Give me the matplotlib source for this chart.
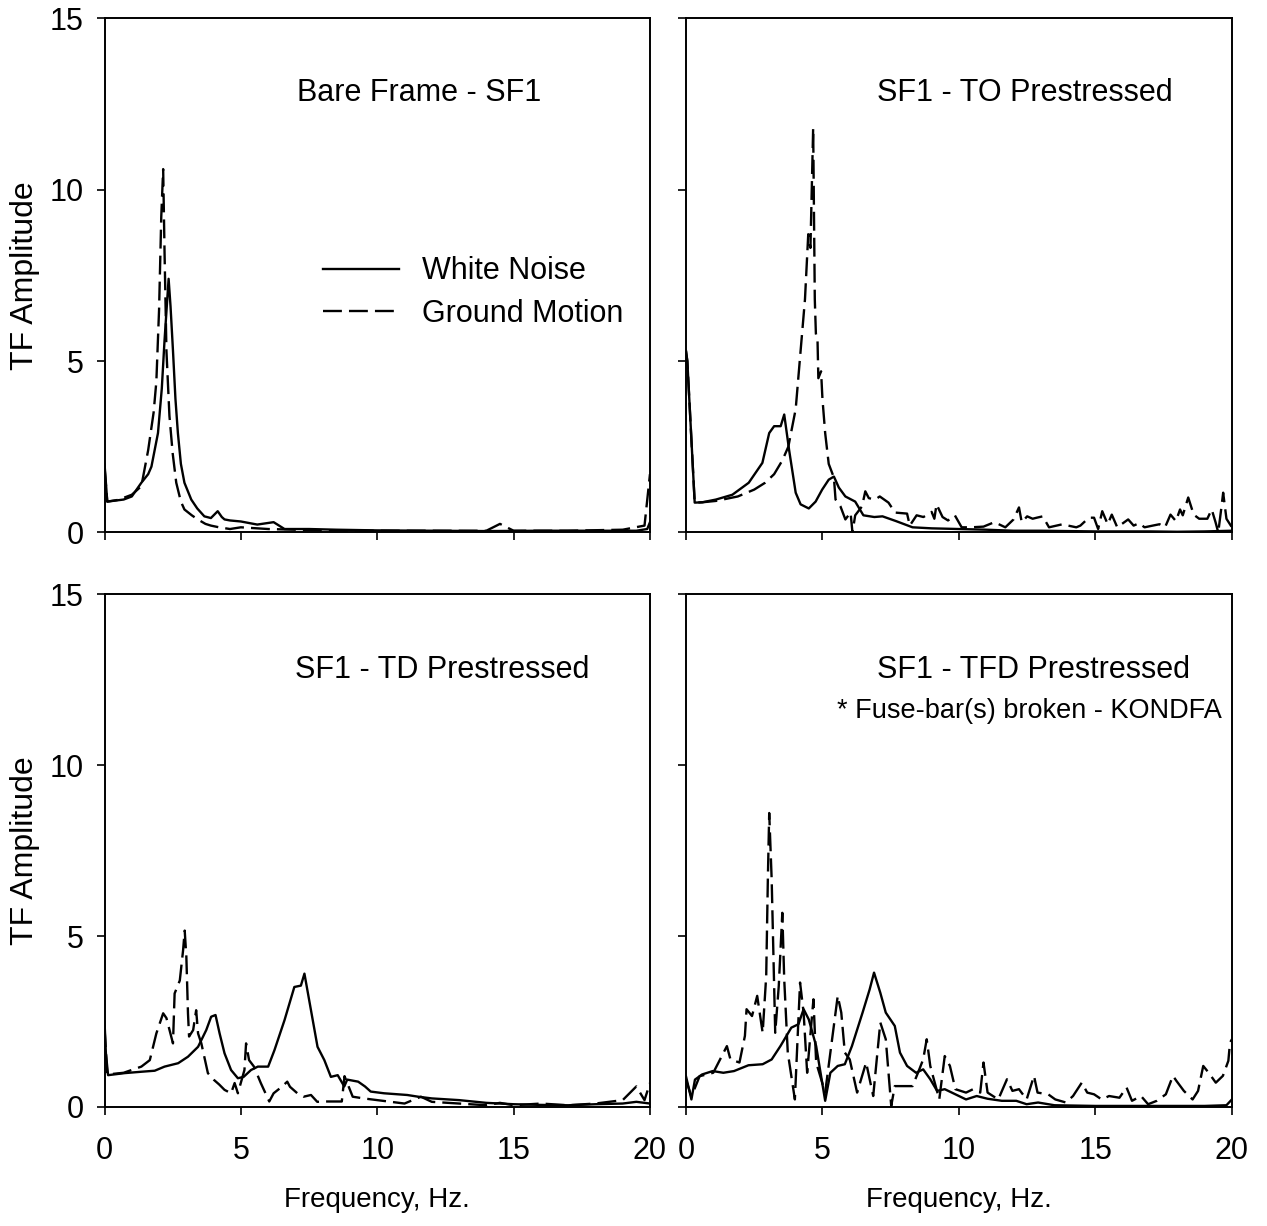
import numpy as np
import matplotlib.pyplot as plt

plt.rcParams['font.family'] = ['Liberation Sans', 'DejaVu Sans']

# ---- data (frequency in Hz, TF amplitude) ----
# Bare Frame - SF1
f_wn1 = [0, 0.1, 0.3, 0.7, 1.0, 1.35, 1.6, 1.72, 1.96, 2.1, 2.2, 2.3, 2.35, 2.42, 2.51,
         2.6, 2.69, 2.8, 2.93, 3.18, 3.4, 3.66, 3.9, 4.15, 4.3, 4.4, 4.6, 5.0, 5.6, 6.2,
         6.6, 7.5, 8.5, 10, 12, 14, 16, 18, 19.5, 19.9, 20]
a_wn1 = [2.0, 0.9, 0.92, 0.96, 1.05, 1.45, 1.7, 1.92, 2.9, 4.2, 5.6, 6.8, 7.4, 6.6, 5.3,
         3.9, 2.9, 2.0, 1.45, 0.96, 0.7, 0.47, 0.42, 0.62, 0.45, 0.38, 0.35, 0.32, 0.23, 0.3,
         0.1, 0.1, 0.08, 0.06, 0.05, 0.04, 0.05, 0.05, 0.05, 0.1, 0.3]
f_gm1 = [0, 0.1, 0.5, 1.0, 1.35, 1.6, 1.8, 1.9, 2.0, 2.08, 2.15, 2.2, 2.27, 2.38, 2.5,
         2.63, 2.8, 2.93, 3.2, 3.42, 3.7, 3.9, 4.2, 4.6, 5.0, 6.0, 7.0, 8.0, 10, 12, 14,
         14.5, 15, 17, 19, 19.8, 20]
a_gm1 = [1.9, 0.9, 0.95, 1.1, 1.35, 2.4, 3.5, 4.4, 6.5, 9.2, 10.6, 8.2, 5.3, 3.4, 2.3,
         1.45, 0.9, 0.67, 0.5, 0.38, 0.25, 0.2, 0.15, 0.1, 0.15, 0.1, 0.08, 0.06, 0.05, 0.05, 0.05,
         0.25, 0.05, 0.05, 0.08, 0.2, 1.7]

# SF1 - TO Prestressed
f_wn2 = [0, 0.05, 0.32, 0.6, 1.1, 1.7, 2.3, 2.8, 3.05, 3.23, 3.47, 3.6, 3.78, 4.02, 4.2,
         4.5, 4.75, 4.99, 5.23, 5.42, 5.6, 5.84, 6.2, 6.5, 6.9, 7.2, 7.7, 8.3, 9, 10, 11,
         12, 13, 14, 15, 16, 17, 18, 19, 20]
a_wn2 = [5.3, 5.0, 0.87, 0.88, 0.96, 1.1, 1.45, 2.03, 2.9, 3.1, 3.1, 3.44, 2.4, 1.16, 0.82,
         0.7, 0.9, 1.25, 1.54, 1.63, 1.31, 1.05, 0.9, 0.5, 0.45, 0.47, 0.33, 0.15, 0.12, 0.1, 0.08,
         0.05, 0.05, 0.04, 0.03, 0.03, 0.03, 0.02, 0.03, 0.05]
f_gm2 = [0, 0.05, 0.32, 0.6, 1.1, 1.9, 2.5, 2.9, 3.23, 3.53, 3.75, 4.02, 4.2, 4.36, 4.48,
         4.56, 4.66, 4.72, 4.76, 4.82, 4.85, 4.95, 5.0, 5.1, 5.23, 5.42, 5.48, 5.66, 5.84, 6.03,
         6.1, 6.2, 6.45, 6.57, 6.7, 6.93, 7.1, 7.42, 7.66, 8.1, 8.2, 8.45, 8.7, 9.0, 9.1,
         9.18, 9.4, 9.6, 9.85, 10.1, 10.45, 10.9, 11.3, 11.7, 12.0, 12.2, 12.3, 12.5, 12.7, 12.85,
         13.07, 13.3, 13.8, 14.0, 14.3, 14.45, 14.76, 14.95, 15.1, 15.25, 15.45, 15.6, 15.8, 16.2, 16.4,
         16.6, 16.8, 17.1, 17.35, 17.55, 17.75, 17.95, 18.1, 18.2, 18.4, 18.6, 18.8, 19.1, 19.26, 19.4,
         19.5, 19.62, 19.68, 19.8, 20]
a_gm2 = [5.3, 5.0, 0.87, 0.88, 0.92, 1.05, 1.25, 1.45, 1.7, 2.1, 2.5, 3.6, 5.3, 6.8, 8.7,
         8.3, 11.8, 6.8, 5.8, 5.6, 4.5, 4.7, 3.9, 2.9, 2.0, 1.6, 0.96, 0.76, 0.38, 0.58,
         0.0, 0.5, 0.76, 1.2, 1.0, 0.96, 1.05, 0.87, 0.58, 0.55, 0.2, 0.5, 0.45, 0.6, 0.4,
         0.82, 0.45, 0.35, 0.5, 0.15, 0.15, 0.17, 0.3, 0.15, 0.38, 0.73, 0.3, 0.47, 0.4, 0.43,
         0.47, 0.15, 0.24, 0.2, 0.15, 0.2, 0.43, 0.43, 0.1, 0.62, 0.24, 0.52, 0.15, 0.38, 0.2,
         0.27, 0.15, 0.2, 0.24, 0.15, 0.52, 0.33, 0.67, 0.5, 1.02, 0.52, 0.4, 0.4, 0.67, 0.3,
         0.0, 0.76, 1.16, 0.4, 0.15]

# SF1 - TD Prestressed
f_wn3 = [0, 0.05, 0.13, 0.74, 1.35, 1.84, 2.2, 2.7, 3.06, 3.43, 3.73, 3.91, 4.07, 4.22, 4.4,
         4.64, 4.89, 5.1, 5.37, 5.62, 6.0, 6.23, 6.6, 6.96, 7.2, 7.33, 7.57, 7.81, 8.06, 8.3,
         8.55, 8.79, 8.9, 9.3, 9.55, 9.76, 10.25, 11.1, 11.5, 12, 13, 14, 15, 16, 17,
         18, 19, 19.5, 20]
a_wn3 = [2.5, 1.57, 0.93, 0.99, 1.03, 1.06, 1.18, 1.28, 1.47, 1.76, 2.25, 2.64, 2.69, 2.15, 1.57,
         1.08, 0.84, 0.88, 1.08, 1.18, 1.18, 1.66, 2.54, 3.51, 3.55, 3.9, 2.83, 1.76, 1.37, 0.88,
         0.93, 0.6, 0.8, 0.74, 0.6, 0.45, 0.4, 0.35, 0.3, 0.25, 0.2, 0.12, 0.08, 0.06, 0.05,
         0.08, 0.1, 0.15, 0.1]
f_gm3 = [0, 0.1, 0.7, 1.35, 1.66, 1.9, 2.15, 2.27, 2.51, 2.57, 2.76, 2.88, 2.94, 3.0, 3.06,
         3.1, 3.25, 3.36, 3.43, 3.55, 3.79, 4.0, 4.2, 4.4, 4.64, 4.77, 4.89, 5.13, 5.19, 5.3,
         5.48, 5.73, 6.04, 6.2, 6.5, 6.7, 6.8, 7.07, 7.3, 7.57, 7.8, 8.06, 8.7, 8.8, 9.1,
         9.5, 10, 10.5, 11, 11.6, 12, 13, 14, 14.5, 15, 16, 17, 18, 19, 19.5, 19.8, 20]
a_gm3 = [2.3, 0.95, 1.0, 1.18, 1.37, 2.15, 2.74, 2.6, 1.86, 3.32, 3.7, 4.58, 5.16, 4.4, 2.74,
         2.06, 2.25, 2.83, 2.15, 1.86, 0.99, 0.8, 0.66, 0.5, 0.4, 0.7, 0.4, 1.08, 1.86, 1.37,
         1.18, 0.7, 0.16, 0.4, 0.59, 0.74, 0.59, 0.4, 0.3, 0.35, 0.15, 0.16, 0.16, 0.9, 0.3,
         0.25, 0.2, 0.15, 0.1, 0.3, 0.15, 0.1, 0.05, 0.12, 0.05, 0.1, 0.05, 0.1, 0.2, 0.6, 0.2, 0.7]

# SF1 - TFD Prestressed
f_wn4 = [0, 0.2, 0.33, 0.59, 0.98, 1.37, 1.76, 2.29, 2.81, 3.14, 3.46, 3.86, 4.12, 4.31, 4.5,
         4.77, 5.1, 5.29, 5.56, 5.82, 6.08, 6.47, 6.73, 6.89, 7.12, 7.32, 7.65, 7.84, 8.1, 8.43,
         8.69, 8.95, 9.2, 9.48, 9.74, 10.0, 10.26, 10.65, 11.05, 11.57, 12.1, 12.48, 12.9, 13.5, 15,
         17, 19, 19.8, 20]
a_wn4 = [0.9, 0.22, 0.8, 0.95, 1.05, 1.0, 1.05, 1.22, 1.25, 1.39, 1.78, 2.32, 2.42, 2.86, 2.56,
         1.78, 0.18, 1.0, 1.2, 1.25, 1.78, 2.76, 3.44, 3.93, 3.34, 2.76, 2.37, 1.59, 1.2, 1.0,
         1.1, 0.81, 0.47, 0.52, 0.42, 0.32, 0.22, 0.32, 0.24, 0.18, 0.18, 0.08, 0.13, 0.05, 0.03,
         0.03, 0.03, 0.05, 0.22]
f_gm4 = [0, 0.2, 0.5, 1.0, 1.5, 1.63, 1.96, 2.16, 2.22, 2.42, 2.61, 2.81, 2.94, 3.0, 3.05,
         3.14, 3.27, 3.4, 3.53, 3.6, 3.73, 3.99, 4.18, 4.31, 4.44, 4.67, 4.77, 5.1, 5.56, 5.69,
         5.82, 6.0, 6.27, 6.6, 6.86, 7.12, 7.32, 7.52, 7.65, 7.84, 8.3, 8.5, 8.69, 8.82, 8.95,
         9.08, 9.28, 9.48, 9.67, 9.87, 10.26, 10.52, 10.78, 10.9, 11.05, 11.44, 11.76, 11.96, 12.2, 12.48,
         12.75, 12.88, 13.27, 13.53, 13.92, 14.18, 14.5, 14.7, 14.95, 15.23, 15.5, 15.88, 16.14, 16.34, 16.67,
         16.93, 17.25, 17.58, 17.84, 17.97, 18.24, 18.56, 18.76, 18.95, 19.15, 19.41, 19.67, 19.87, 19.93, 20]
a_gm4 = [0.8, 0.3, 0.9, 1.0, 1.78, 1.39, 1.3, 2.08, 2.86, 2.66, 3.25, 2.17, 3.83, 6.66, 8.6,
         6.66, 2.17, 3.54, 5.68, 3.73, 1.59, 0.22, 3.64, 2.76, 1.0, 3.15, 1.3, 0.42, 3.25, 2.76,
         1.59, 1.39, 0.42, 1.3, 0.32, 2.47, 1.98, 0.03, 0.61, 0.61, 0.61, 1.0, 1.39, 1.98, 1.2,
         0.81, 0.22, 1.49, 1.2, 0.52, 0.42, 0.52, 0.42, 1.3, 0.42, 0.22, 0.81, 0.47, 0.52, 0.22,
         0.91, 0.42, 0.37, 0.22, 0.13, 0.32, 0.71, 0.42, 0.37, 0.22, 0.32, 0.27, 0.57, 0.18, 0.32,
         0.08, 0.18, 0.37, 0.91, 0.76, 0.47, 0.22, 0.47, 1.2, 1.0, 0.71, 0.91, 1.35, 1.88, 1.98]

titles = ["Bare Frame - SF1", "SF1 - TO Prestressed", "SF1 - TD Prestressed", "SF1 - TFD Prestressed"]
note = "* Fuse-bar(s) broken - KONDFA"

panels = [(f_wn1, a_wn1, f_gm1, a_gm1), (f_wn2, a_wn2, f_gm2, a_gm2),
          (f_wn3, a_wn3, f_gm3, a_gm3), (f_wn4, a_wn4, f_gm4, a_gm4)]

fig = plt.figure(figsize=(12.67, 12.26), dpi=100)
boxes = [[0.0825, 0.5657, 0.4305, 0.4194], [0.5414, 0.5657, 0.4309, 0.4194],
         [0.0825, 0.0971, 0.4305, 0.4182], [0.5414, 0.0971, 0.4309, 0.4182]]
# title anchor (axes fraction, baseline)
title_pos = [(0.577, 0.839), (0.621, 0.839), (0.619, 0.837), (0.636, 0.837)]

fs = 22
for i, (box, (fw, aw, fg, ag)) in enumerate(zip(boxes, panels)):
    ax = fig.add_axes(box)
    ax.plot(fw, aw, color='black', lw=1.7, label='White Noise')
    ax.plot(fg, ag, color='black', lw=1.7, dashes=(8, 3), label='Ground Motion')
    ax.set_xlim(0, 20)
    ax.set_ylim(0, 15)
    ax.set_xticks([0, 5, 10, 15, 20])
    ax.set_yticks([0, 5, 10, 15])
    ax.tick_params(direction='out', length=6, width=1.2, labelsize=fs)
    ax.tick_params(axis='x', pad=15)
    ax.tick_params(axis='y', pad=9)
    for sp in ax.spines.values():
        sp.set_linewidth(1.4)
    if i < 2:
        ax.tick_params(labelbottom=False)
    else:
        ax.set_xlabel('Frequency, Hz.', fontsize=20, labelpad=15)
    if i % 2 == 1:
        ax.tick_params(labelleft=False)
    else:
        ax.set_ylabel('TF Amplitude', fontsize=23, labelpad=7)
    tx, ty = title_pos[i]
    ax.text(tx, ty, titles[i], transform=ax.transAxes, ha='center', va='baseline', fontsize=fs)
    if i == 3:
        ax.text(0.630, 0.759, note, transform=ax.transAxes, ha='center', va='baseline', fontsize=19.5)
    if i == 0:
        ax.legend(loc='upper left', bbox_to_anchor=(0.40, 0.537), frameon=False, fontsize=fs,
                  handlelength=2.5, handletextpad=0.75, labelspacing=0.4,
                  borderpad=0, borderaxespad=0)

plt.savefig('out.png', dpi=100)
